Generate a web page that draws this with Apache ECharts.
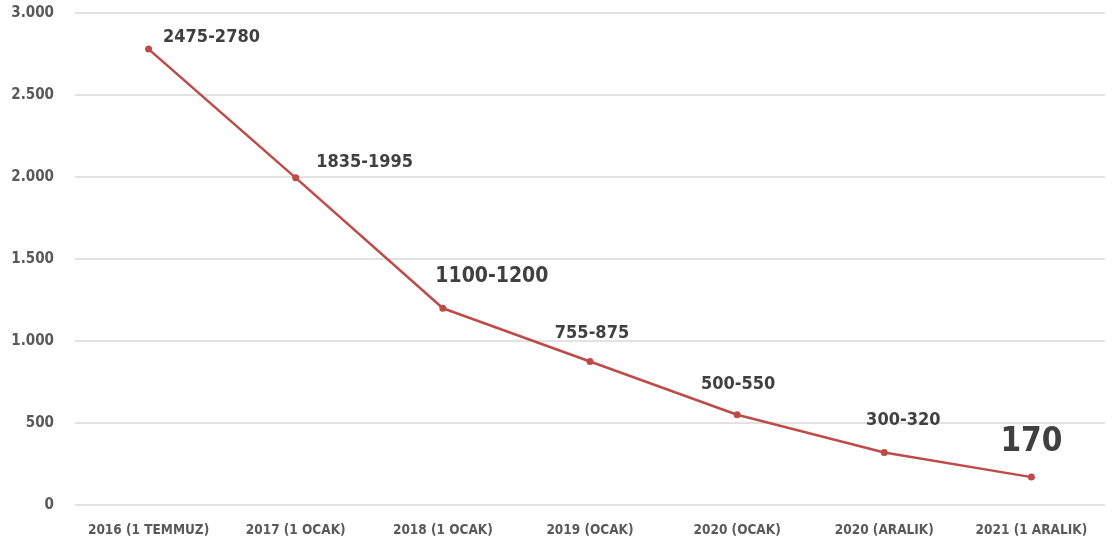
<!DOCTYPE html>
<html>
<head>
<meta charset="utf-8">
<script src="https://cdn.jsdelivr.net/npm/echarts@6/dist/echarts.min.js"></script>
<style>
	html, body { margin: 0; padding: 0; background: #fff; }
	#chart { width: 1114px; height: 547px; }
</style>
</head>
<body>
<div id="chart"></div>
<script>
var categories = ["2016 (1 TEMMUZ)", "2017 (1 OCAK)", "2018 (1 OCAK)", "2019 (OCAK)", "2020 (OCAK)", "2020 (ARALIK)", "2021 (1 ARALIK)"];
var values = [2780, 1995, 1200, 875, 550, 320, 170];
var rangeLabels = ["2475-2780", "1835-1995", "1100-1200", "755-875", "500-550", "300-320", "170"];

var font = "'Liberation Sans Narrow', 'DejaVu Sans Condensed', sans-serif";

// label placement per point
var labelStyles = [
	{ position: "right", offset: [6, -12], fontSize: 18 },
	{ position: "right", offset: [12, -15], fontSize: 18 },
	{ position: "top", offset: [49, -13], fontSize: 21 },
	{ position: "top", offset: [2, -11], fontSize: 18 },
	{ position: "top", offset: [1, -13], fontSize: 18 },
	{ position: "top", offset: [19, -15], fontSize: 18 },
	{ position: "top", offset: [0, -10], fontSize: 33 }
];

var chart = echarts.init(document.getElementById("chart"));

var seriesData = values.map(function (v, i) {
	var s = labelStyles[i];
	return {
		value: v,
		label: {
			show: true,
			position: s.position,
			offset: s.offset,
			fontSize: s.fontSize,
			formatter: rangeLabels[i]
		}
	};
});

var option = {
	animation: false,
	grid: {
		left: 75,
		right: 9,
		top: 13,
		bottom: 42,
		containLabel: false
	},
	xAxis: {
		type: "category",
		data: categories,
		boundaryGap: true,
		axisLine: { show: false },
		axisTick: { show: false },
		axisLabel: {
			color: "#595959",
			fontFamily: font,
			fontWeight: "bold",
			fontSize: 13.5,
			margin: 18,
			interval: 0
		}
	},
	yAxis: {
		type: "value",
		min: 0,
		max: 3000,
		interval: 500,
		axisLine: { show: false },
		axisTick: { show: false },
		splitLine: { lineStyle: { color: "#d9d9d9", width: 1.5 } },
		axisLabel: {
			color: "#595959",
			fontFamily: font,
			fontWeight: "bold",
			fontSize: 15,
			margin: 21,
			formatter: function (v) {
				return v.toLocaleString("tr-TR");
			}
		}
	},
	series: [
		{
			type: "line",
			data: seriesData,
			symbol: "circle",
			symbolSize: 7,
			lineStyle: { color: "#be4b48", width: 2.5 },
			itemStyle: { color: "#be4b48" },
			label: {
				color: "#404040",
				fontFamily: font,
				fontWeight: "bold"
			}
		}
	]
};

chart.setOption(option);
</script>
</body>
</html>
